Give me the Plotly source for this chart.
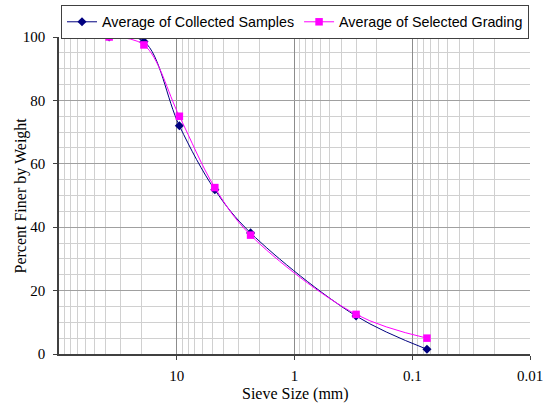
import plotly.graph_objects as go

sieve_mm = [37.5, 19, 9.5, 4.75, 2.36, 0.3, 0.075]
collected = [100, 98.6, 72, 51.8, 38.2, 12, 1.5]
selected = [100, 97.5, 75, 52.5, 37.5, 12.5, 5]
x_tickvals = [10, 1, 0.1, 0.01]
x_ticktext = ["10", "1", "0.1", "0.01"]
y_tickvals = [0, 20, 40, 60, 80, 100]

fig = go.Figure()
fig.add_trace(go.Scatter(
    x=sieve_mm, y=collected, name="Average of Collected Samples",
    mode="lines+markers", line=dict(color="#000080", width=1, shape="spline"),
    marker=dict(symbol="diamond", size=7, color="#000080"),
))
fig.add_trace(go.Scatter(
    x=sieve_mm, y=selected, name="Average of Selected Grading",
    mode="lines+markers", line=dict(color="#FF00FF", width=1, shape="spline"),
    marker=dict(symbol="square", size=7.5, color="#FF00FF"),
))

serif = "Liberation Serif, Times New Roman, serif"
L, R, T, B = 59, 18, 37, 53
W, H = 548, 407
pw, ph = W - L - R, H - T - B

fig.update_layout(
    width=W, height=H,
    margin=dict(l=L, r=R, t=T, b=B, autoexpand=False),
    paper_bgcolor="white", plot_bgcolor="white",
    showlegend=True,
    legend=dict(
        orientation="h", xref="paper", yref="paper",
        x=(61 - L) / pw, xanchor="left", y=(H - B - 5) / ph, yanchor="top",
        bordercolor="#404040", borderwidth=1, bgcolor="white",
        font=dict(family="Liberation Sans, Arial, sans-serif", size=14.3, color="black"),
        itemwidth=30, tracegroupgap=0,
    ),
    xaxis=dict(
        type="log", range=[2, -2],
        tickvals=x_tickvals, ticktext=x_ticktext,
        showgrid=True, gridcolor="#8c8c8c", gridwidth=1,
        minor=dict(dtick="D1", showgrid=True, gridcolor="#d0d0d0", gridwidth=1),
        showline=True, linecolor="#404040", linewidth=1.5,
        ticks="outside", ticklen=4, tickcolor="#404040", ticklabelstandoff=3,
        tickfont=dict(family=serif, size=15, color="black"),
        zeroline=False,
    ),
    yaxis=dict(
        range=[0, 100], tickvals=y_tickvals,
        showgrid=True, gridcolor="#a0a0a0", gridwidth=1,
        minor=dict(dtick=5, showgrid=True, gridcolor="#d0d0d0", gridwidth=1),
        showline=True, linecolor="#404040", linewidth=1.5,
        ticks="outside", ticklen=4, tickcolor="#404040", ticklabelstandoff=5,
        tickfont=dict(family=serif, size=15, color="black"),
        zeroline=False,
    ),
    annotations=[
        dict(text="Sieve Size (mm)", xref="paper", yref="paper",
             x=(295 - L) / pw, y=(H - B - 394) / ph, xanchor="center", yanchor="middle",
             showarrow=False, font=dict(family=serif, size=16, color="black")),
        dict(text="Percent Finer by Weight", xref="paper", yref="paper",
             x=(20 - L) / pw, y=0.5, xanchor="center", yanchor="middle", textangle=-90,
             showarrow=False, font=dict(family=serif, size=16, color="black")),
    ],
)

fig.write_html("out.html")
